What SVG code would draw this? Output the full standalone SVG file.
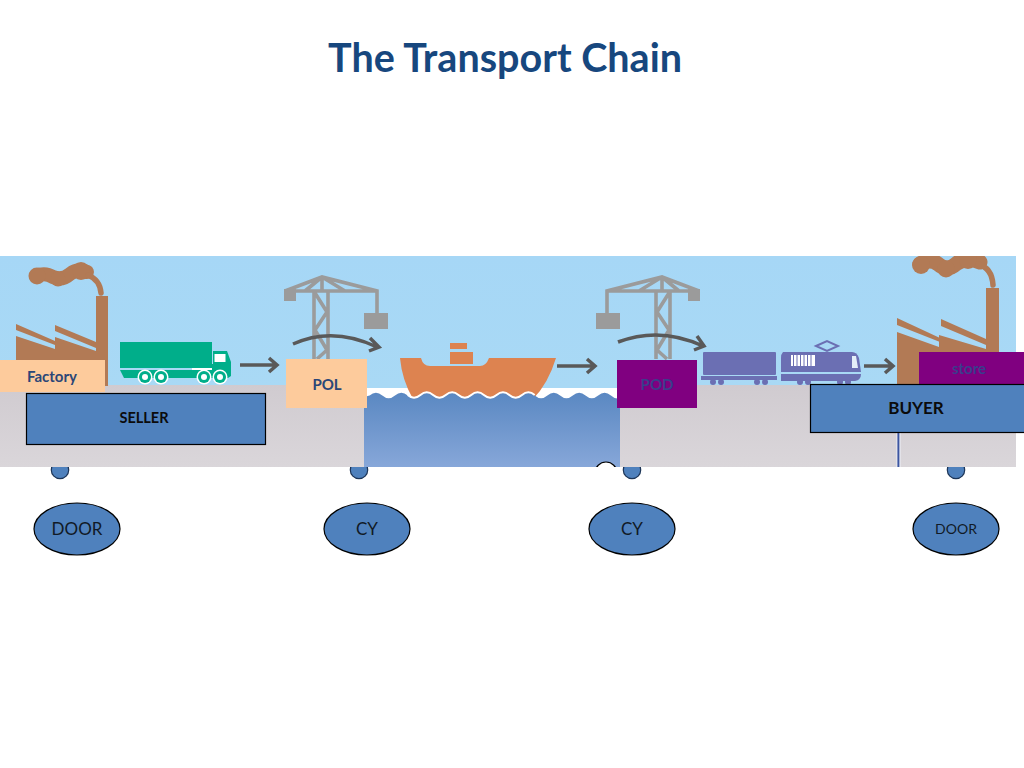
<svg xmlns="http://www.w3.org/2000/svg" width="1024" height="768" viewBox="0 0 1024 768">
<style>
text{font-family:"Lato","Open Sans","Liberation Sans",sans-serif;text-anchor:middle}
.lbl{font-weight:700;font-size:15px;fill:#2b4677}
.blk{font-weight:700;fill:#0b0b0b}
.ell{font-size:17px;fill:#111a26}
.node{fill:#4f81bd;stroke:#000;stroke-width:1.2}
.dot{fill:#4f81bd;stroke:#1d3557;stroke-width:1.2}
.brown{fill:#b27a55}
.smoke{fill:none;stroke:#b27a55;stroke-linecap:round;stroke-linejoin:round}
.ar{fill:none;stroke:#595959;stroke-width:3.5;stroke-linejoin:miter}
.cr{fill:none;stroke:#9b9b9b;stroke-width:3.6}
.crf{fill:#9b9b9b}
.grn{fill:#00ae8a}
.trn{fill:#6b6fb3}
</style>
<defs>
<linearGradient id="sky" x1="0" y1="0" x2="0" y2="1"><stop offset="0" stop-color="#a6d7f6"/><stop offset="1" stop-color="#a9d9f5"/></linearGradient>
<linearGradient id="water" x1="0" y1="0" x2="0" y2="1"><stop offset="0" stop-color="#5a88c2"/><stop offset="1" stop-color="#87a7d9"/></linearGradient>
<linearGradient id="ground" x1="0" y1="0" x2="0" y2="1"><stop offset="0" stop-color="#d0cbd0"/><stop offset="1" stop-color="#dad6da"/></linearGradient>
<clipPath id="img"><rect x="0" y="256" width="1016" height="211"/></clipPath>
<g id="wheel"><circle r="7.500" fill="#fff"/><circle r="6" class="grn"/><circle r="3" fill="#fff"/></g>
<g id="crane">
<path class="cr" d="M285,291 L322,277 L377,291 L377,313 M285,291 H377 M314,291 V359 M328,291 V359 M322,277 V291 M322,277 L305,291 M322,277 L345,291 M315,293 L327,312 L315,330 L327,350 L317,359"/>
<rect class="crf" x="284" y="289" width="12" height="12"/>
<rect class="crf" x="364" y="313" width="24" height="16"/>
</g>
</defs>
<text id="title" x="505" y="72" font-size="39.500" font-weight="700" fill="#17477e">The Transport Chain</text>
<g id="dots">
<circle class="dot" cx="60" cy="470" r="8.7"/>
<circle class="dot" cx="359" cy="470" r="8.7"/>
<circle class="dot" cx="632" cy="470" r="8.7"/>
<circle class="dot" cx="956" cy="470" r="8.7"/>
</g>
<g id="scene">
<rect x="0" y="256" width="1016" height="132" fill="url(#sky)"/>
<rect x="0" y="388" width="1016" height="10" fill="#fff"/>
<rect x="0" y="385" width="364" height="82" fill="url(#ground)"/>
<rect x="620" y="385" width="396" height="82" fill="url(#ground)"/>
</g>
<g id="ship">
<path fill="#dd8350" d="M400,358 H421 Q423,366 430,366 H480 Q486,366 489,358 H556 Q548,384 533,399 H413 Q402,380 400,358 Z"/>
<rect x="450" y="343" width="17" height="6" fill="#dd8350"/>
<rect x="450" y="352" width="23" height="12" fill="#dd8350"/>
</g>
<g id="sea">
<path fill="url(#water)" d="M364,397 L369.600,395.500 Q375.950,390 382.300,395.500 T395,395.500 T407.700,395.500 T420.400,395.500 T433.100,395.500 T445.800,395.500 T458.500,395.500 T471.200,395.500 T483.900,395.500 T496.600,395.500 T509.300,395.500 T522,395.500 T534.700,395.500 T547.400,395.500 T560.100,395.500 T572.800,395.500 T585.500,395.500 T598.200,395.500 T610.900,395.500 Q616,400 620,398 V467 H364 Z"/>
<path fill="none" stroke="#fff" stroke-width="2" d="M407.700,395 Q414,400.500 420.400,395 T433.100,395 T445.800,395 T458.500,395 T471.200,395 T483.900,395 T496.600,395 T509.300,395 T522,395 T534.700,395"/>
<circle cx="606" cy="473" r="11" fill="#fff" stroke="#000" stroke-width="1.2"/>
<rect x="590" y="467" width="32" height="20" fill="#fff"/>
<rect x="896.500" y="432" width="4" height="35" fill="#eef0f7"/>
<rect x="897.400" y="432" width="2" height="35" fill="#3d55a0"/>
</g>
<g id="factory-left">
<path class="smoke" stroke-width="14" d="M36,276 Q45,272 53,277 Q62,281 70,274 Q78,268 87,272"/>
<g class="brown"><circle cx="37" cy="276" r="8.500"/><circle cx="58" cy="279" r="7.500"/><circle cx="81" cy="271" r="9"/></g>
<path class="smoke" stroke-width="5.500" d="M88,275 Q100,280 101,293"/>
<rect class="brown" x="96" y="296" width="12" height="90"/>
<path class="brown" d="M16,336 L55,349 V337 L96,351 V386 H16 Z M16,324 L55,341 V345 L16,330 Z M55,325 L96,342 V348 L55,331 Z"/>
</g>
<g id="truck">
<rect class="grn" x="120" y="342" width="92" height="26"/>
<path class="grn" d="M120,370 H195 V364 H213 V351 H227 L231,362 V376 L228,378 H124 Z"/>
<rect x="214.500" y="354" width="11" height="8" fill="#fff"/>
<rect x="192" y="368" width="20" height="2" fill="#fff"/>
<use href="#wheel" x="145" y="377"/><use href="#wheel" x="161" y="377"/><use href="#wheel" x="204" y="377"/><use href="#wheel" x="220" y="377"/>
</g>
<g id="crane-left"><use href="#crane"/></g>
<g id="crane-right"><use href="#crane" transform="matrix(-1 0 0 1 984 0)"/></g>
<g id="train">
<rect class="trn" x="703" y="352" width="73" height="23" rx="1"/>
<rect class="trn" x="701" y="376" width="76" height="4"/>
<circle class="trn" cx="713" cy="382" r="3"/><circle class="trn" cx="721" cy="382" r="3"/><circle class="trn" cx="757" cy="382" r="3"/><circle class="trn" cx="765" cy="382" r="3"/>
<path class="trn" d="M783,352 H852 Q857,352 859,358 L861,372 H781 V358 Q781,354 783,352 Z"/>
<path class="trn" d="M781,374 H861 Q861,380 855,381 H781 Z"/>
<circle class="trn" cx="800" cy="382" r="3"/><circle class="trn" cx="808" cy="382" r="3"/><circle class="trn" cx="840" cy="382" r="3"/><circle class="trn" cx="848" cy="382" r="3"/>
<path d="M816,346 L827,341 L838,346 L827,351 Z" fill="none" stroke="#6b6fb3" stroke-width="2"/>
<rect x="791" y="355" width="24" height="11" fill="#fff"/>
<path d="M793.500,355 V366 M797,355 V366 M800.500,355 V366 M804,355 V366 M807.500,355 V366 M811,355 V366" stroke="#6b6fb3" stroke-width="1"/>
<path d="M852,356 H856 L858,368 H852 Z" fill="#e4eef8"/>
</g>
<g id="factory-right">
<g clip-path="url(#img)">
<path class="smoke" stroke-width="15" d="M920,264 Q930,258 938,264 Q947,272 956,264 Q966,256 980,262"/>
<g class="brown"><circle cx="921" cy="265" r="9"/><circle cx="946" cy="269" r="8.500"/><circle cx="968" cy="260" r="9"/></g>
</g>
<path class="smoke" stroke-width="5.500" d="M978,264 Q992,268 993,285"/>
<rect class="brown" x="986" y="288" width="13" height="97"/>
<path class="brown" d="M897,332 L939,347 V335 L986,349 V386 H897 Z M897,318 L940,338 V342 L897,325 Z M941,319 L986,339 V345 L941,326 Z"/>
</g>
<g id="connectors">
<path class="ar" d="M240,365 H276 M269,358 L277,365 L269,372"/>
<path class="ar" d="M557,366 H594 M587,359 L595,366 L587,373"/>
<path class="ar" d="M864,366 H892 M885,359 L893,366 L885,373"/>
<path class="ar" d="M293,344 Q333,326 377,347 M370,338 L379,347 L369,351"/>
<path class="ar" d="M618,342 Q660,326 703,346 M697,336 L704,346 L694,350"/>
</g>
<g id="factory-label">
<rect x="0" y="360" width="105" height="32" fill="#fdcb9c"/>
<text class="lbl" x="52" y="382">Factory</text>
</g>
<g id="seller">
<rect class="node" x="26.500" y="393.500" width="239" height="51"/>
<text class="blk" x="144" y="423" font-size="14.500">SELLER</text>
</g>
<g id="pol">
<rect x="286" y="359" width="81" height="49" fill="#fdcb9c"/>
<text class="lbl" x="327" y="390">POL</text>
</g>
<g id="pod">
<rect x="617" y="360" width="80" height="48" fill="#800080"/>
<text class="lbl" x="657" y="390" style="fill:#3b3d8c">POD</text>
</g>
<g id="store">
<rect x="919" y="352" width="105" height="33" fill="#800080"/>
<text class="lbl" x="969" y="374" style="fill:#3b3d8c">store</text>
</g>
<g id="buyer">
<rect class="node" x="810.500" y="384.500" width="215" height="48"/>
<text class="blk" x="916" y="414" font-size="17">BUYER</text>
</g>
<g id="door-left"><ellipse class="node" cx="77" cy="529" rx="43" ry="26"/><text class="ell" x="77" y="535">DOOR</text></g>
<g id="cy-left"><ellipse class="node" cx="367" cy="529" rx="43" ry="26"/><text class="ell" x="367" y="535">CY</text></g>
<g id="cy-right"><ellipse class="node" cx="632" cy="529" rx="43" ry="26"/><text class="ell" x="632" y="535">CY</text></g>
<g id="door-right"><ellipse class="node" cx="956" cy="529" rx="43" ry="26"/><text class="ell" x="956" y="534" style="font-size:14px">DOOR</text></g>
</svg>
